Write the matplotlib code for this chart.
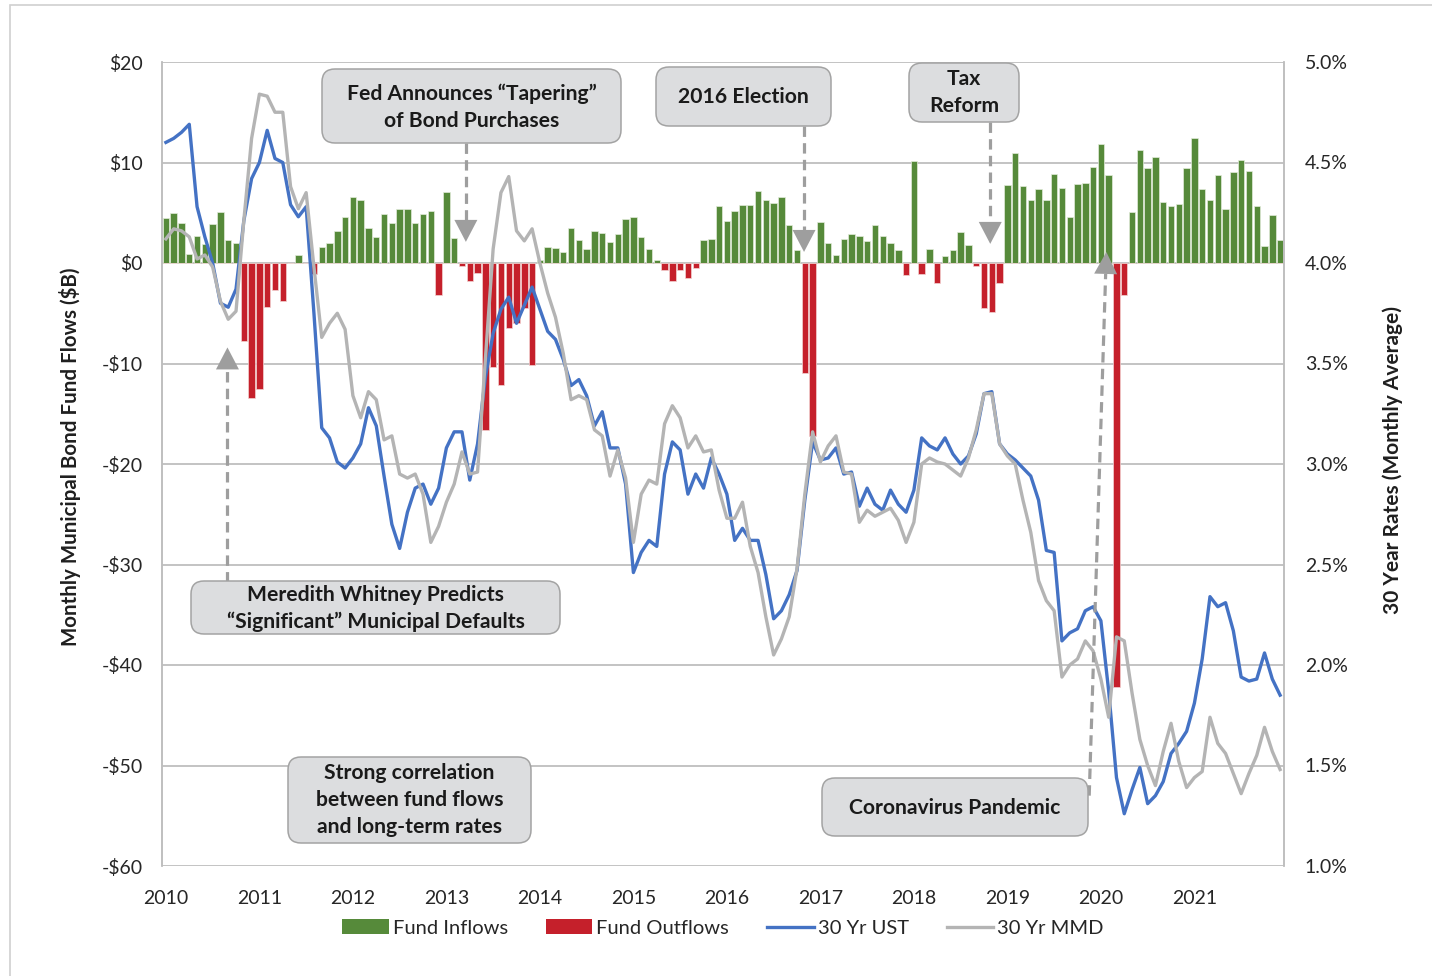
import matplotlib
matplotlib.use("Agg")
import numpy as np
import matplotlib.pyplot as plt
from matplotlib.patches import FancyBboxPatch, Polygon, Rectangle, Patch
from matplotlib.lines import Line2D
from matplotlib.transforms import IdentityTransform

plt.rcParams["font.family"] = ["Lato", "DejaVu Sans"]
plt.rcParams["lines.scale_dashes"] = False

# monthly municipal bond fund flows, $B (Jan 2010 - Dec 2021)
flows = [4.5, 5.0, 4.0, 0.9, 2.7, 1.9, 3.9, 5.1, 2.3, 2.0,
         -7.8, -13.4, -12.5, -4.4, -2.7, -3.8, 0.0, 0.8, 0.0, -1.1,
         1.6, 2.0, 3.2, 4.6, 6.6, 6.3, 3.5, 2.6, 4.9, 4.0,
         5.4, 5.4, 4.0, 4.9, 5.2, -3.2, 7.1, 2.5, -0.3, -1.8,
         -1.0, -16.6, -10.3, -12.1, -6.5, -6.0, -4.5, -10.1, 0.3, 1.6,
         1.5, 1.1, 3.5, 2.3, 1.4, 3.2, 3.0, 2.1, 2.9, 4.4,
         4.6, 2.6, 1.4, 0.3, -0.7, -1.8, -0.7, -1.5, -0.5, 2.3,
         2.4, 5.7, 4.2, 5.2, 5.8, 5.8, 7.2, 6.3, 6.0, 6.6,
         3.8, 1.3, -10.9, -17.2, 4.1, 2.0, 0.8, 2.4, 2.9, 2.7,
         2.2, 3.8, 2.7, 2.0, 1.3, -1.2, 10.1, -1.1, 1.4, -2.0,
         0.7, 1.3, 3.1, 1.8, -0.3, -4.5, -4.9, -2.0, 7.8, 10.9,
         7.7, 6.3, 7.4, 6.3, 8.9, 7.5, 4.6, 7.9, 8.0, 9.6,
         11.8, 8.8, -42.2, -3.2, 5.1, 11.2, 9.5, 10.5, 6.1, 5.7,
         5.9, 9.5, 12.4, 7.4, 6.3, 8.8, 5.4, 9.1, 10.2, 9.2,
         5.7, 1.7, 4.8, 2.3]

# 30 year rates, monthly average (%)
ust = [4.60, 4.62, 4.65, 4.69, 4.28, 4.13, 4.00, 3.80, 3.78, 3.87,
       4.21, 4.42, 4.50, 4.66, 4.52, 4.50, 4.29, 4.23, 4.28, 3.75,
       3.18, 3.13, 3.01, 2.98, 3.03, 3.10, 3.28, 3.19, 2.94, 2.70,
       2.58, 2.76, 2.88, 2.90, 2.80, 2.88, 3.08, 3.16, 3.16, 2.92,
       3.10, 3.43, 3.65, 3.77, 3.83, 3.70, 3.79, 3.88, 3.77, 3.66,
       3.62, 3.52, 3.39, 3.42, 3.34, 3.19, 3.26, 3.08, 3.08, 2.90,
       2.46, 2.56, 2.62, 2.59, 2.95, 3.11, 3.07, 2.85, 2.95, 2.88,
       3.03, 2.95, 2.85, 2.62, 2.68, 2.62, 2.62, 2.45, 2.23, 2.27,
       2.35, 2.47, 2.82, 3.11, 3.02, 3.03, 3.08, 2.95, 2.96, 2.79,
       2.88, 2.80, 2.77, 2.87, 2.80, 2.76, 2.87, 3.13, 3.09, 3.07,
       3.13, 3.05, 3.00, 3.04, 3.15, 3.35, 3.36, 3.10, 3.05, 3.02,
       2.98, 2.94, 2.82, 2.57, 2.56, 2.12, 2.16, 2.18, 2.27, 2.29,
       2.22, 1.87, 1.44, 1.26, 1.38, 1.49, 1.31, 1.35, 1.42, 1.56,
       1.61, 1.67, 1.81, 2.03, 2.34, 2.29, 2.31, 2.17, 1.94, 1.92,
       1.93, 2.06, 1.93, 1.85]

mmd = [4.12, 4.17, 4.16, 4.13, 4.02, 4.04, 3.98, 3.81, 3.72, 3.76,
       4.21, 4.62, 4.84, 4.83, 4.75, 4.75, 4.38, 4.27, 4.35, 3.98,
       3.63, 3.70, 3.75, 3.67, 3.34, 3.23, 3.36, 3.32, 3.12, 3.14,
       2.95, 2.93, 2.95, 2.85, 2.61, 2.69, 2.81, 2.90, 3.06, 2.95,
       2.96, 3.52, 4.07, 4.35, 4.43, 4.16, 4.11, 4.17, 4.00, 3.85,
       3.73, 3.55, 3.32, 3.34, 3.32, 3.17, 3.14, 2.94, 3.07, 2.93,
       2.61, 2.85, 2.92, 2.90, 3.20, 3.29, 3.23, 3.08, 3.14, 3.06,
       3.07, 2.87, 2.73, 2.73, 2.81, 2.59, 2.46, 2.24, 2.05, 2.13,
       2.24, 2.48, 2.85, 3.16, 3.01, 3.09, 3.14, 2.96, 2.95, 2.71,
       2.77, 2.74, 2.76, 2.78, 2.72, 2.61, 2.71, 3.00, 3.03, 3.01,
       3.00, 2.97, 2.94, 3.03, 3.17, 3.35, 3.35, 3.10, 3.04, 3.00,
       2.82, 2.66, 2.42, 2.32, 2.27, 1.94, 2.00, 2.03, 2.12, 2.07,
       1.93, 1.74, 2.14, 2.12, 1.86, 1.63, 1.50, 1.40, 1.57, 1.71,
       1.52, 1.39, 1.44, 1.47, 1.74, 1.61, 1.56, 1.46, 1.36, 1.46,
       1.55, 1.69, 1.57, 1.48]

years = list(range(2010, 2022))

GREEN = "#568A3A"
RED = "#C5202B"
BLUE = "#4472C4"
GREY = "#B4B4B4"
ARROW = "#9E9E9E"
W, H = 1432, 976

fig = plt.figure(figsize=(W / 100, H / 100), dpi=100)
ax = fig.add_axes([162 / W, 1 - 866 / H, (1284 - 162) / W, (866 - 62) / H])
ax2 = ax.twinx()

months = np.arange(len(flows))
flows = np.array(flows)
inflow = np.where(flows > 0, flows, 0)
outflow = np.where(flows < 0, flows, 0)
ax.bar(months, inflow, width=0.82, color=GREEN, edgecolor="#e3ecdb", linewidth=0.5, zorder=2)
ax.bar(months, outflow, width=0.82, color=RED, edgecolor="#f3d3d3", linewidth=0.5, zorder=2)

ax2.plot(months, ust, color=BLUE, lw=2.4, solid_joinstyle="round")
ax2.plot(months, mmd, color=GREY, lw=2.4, solid_joinstyle="round")

ax.set_xlim(-0.5, len(flows) - 0.5)
ax.set_ylim(-60, 20)
ax2.set_ylim(1.0, 5.0)

lt = list(range(-60, 21, 10))
ax.set_yticks(lt)
ax.set_yticklabels([("-$%d" % -v) if v < 0 else "$%d" % v for v in lt])
rt = np.arange(1.0, 5.01, 0.5)
ax2.set_yticks(rt)
ax2.set_yticklabels(["%.1f%%" % v for v in rt])
ax.set_xticks(months[::12])
ax.set_xticklabels([str(y) for y in years])

ax.yaxis.grid(True, color="#B3B3B3", lw=1.1)
ax.set_axisbelow(True)
for a in (ax, ax2):
    for s in a.spines.values():
        s.set_visible(False)
    a.spines["left"].set_visible(True)
    a.spines["right"].set_visible(True)
    a.spines["left"].set_color("#BDBDBD")
    a.spines["right"].set_color("#BDBDBD")
    a.spines["left"].set_linewidth(1.1)
    a.spines["right"].set_linewidth(1.1)
ax.tick_params(axis="y", length=0, pad=14, labelsize=14, colors="#262626")
ax.tick_params(axis="x", length=0, pad=17, labelsize=14, colors="#262626")
ax2.tick_params(axis="y", length=0, pad=15, labelsize=14, colors="#262626")

fig.text(70 / W, 1 - 457 / H, "Monthly Municipal Bond Fund Flows ($B)", rotation=90,
         ha="center", va="center", fontsize=14.8, fontweight="bold", color="#1F1F1F")
fig.text(1393 / W, 1 - 460 / H, "30 Year Rates (Monthly Average)", rotation=90,
         ha="center", va="center", fontsize=15, fontweight="bold", color="#1F1F1F")

# chart-area border
fig.add_artist(Rectangle((10, -20), W + 20, H - 5 + 20, transform=IdentityTransform(),
                         facecolor="none", edgecolor="#D0D0D0", lw=1.2))


def note(x0, y0, x1, y1, lines, ys):
    box = FancyBboxPatch((x0, H - y1), x1 - x0, y1 - y0,
                         boxstyle="round,pad=0,rounding_size=13",
                         transform=IdentityTransform(), facecolor="#DCDDDF",
                         edgecolor="#A3A3A3", lw=1.1, zorder=5)
    fig.add_artist(box)
    for txt, yy in zip(lines, ys):
        fig.text((x0 + x1) / 2 / W, 1 - yy / H, txt, ha="center", va="center",
                 fontsize=15.2, fontweight="bold", color="#1A1A1A", zorder=6)


def arrow(tail, tip, head=22, half=11.5):
    p0 = ax.transData.transform(tail)
    p1 = ax.transData.transform(tip)
    d = (p1 - p0) / np.hypot(*(p1 - p0))
    n = np.array([-d[1], d[0]])
    base = p1 - d * head
    fig.add_artist(Line2D([p0[0], base[0]], [p0[1], base[1]], transform=IdentityTransform(),
                          color=ARROW, lw=2.3, dashes=(7.5, 4.5), zorder=4))
    fig.add_artist(Polygon([p1, base + n * half, base - n * half], closed=True,
                           transform=IdentityTransform(), facecolor=ARROW,
                           edgecolor="none", zorder=4))


note(322, 69, 621, 143, ["Fed Announces \u201cTapering\u201d", "of Bond Purchases"], [94, 121])
note(656, 67, 831, 126, ["2016 Election"], [97])
note(909, 63, 1019, 122, ["Tax", "Reform"], [79, 106])
note(191, 581, 560, 634, ["Meredith Whitney Predicts",
                          "\u201cSignificant\u201d Municipal Defaults"], [595, 622])
note(288, 757, 531, 843, ["Strong correlation", "between fund flows",
                          "and long-term rates"], [773, 800, 827])
note(822, 778, 1088, 836, ["Coronavirus Pandemic"], [808])

arrow((38.5, 11.95), (38.5, 2.1))
arrow((81.9, 13.6), (81.9, 1.1))
arrow((105.8, 14.0), (105.8, 1.9))
arrow((7.9, -31.7), (7.9, -8.4))
arrow((118.5, -53.0), (120.7, 1.1))

handles = [Patch(facecolor=GREEN, edgecolor="none"),
           Patch(facecolor=RED, edgecolor="none"),
           Line2D([], [], color=BLUE, lw=2.4),
           Line2D([], [], color=GREY, lw=2.4)]
fig.legend(handles, ["Fund Inflows", "Fund Outflows", "30 Yr UST", "30 Yr MMD"],
           loc="center", bbox_to_anchor=(723 / W, 1 - 928 / H), ncol=4, frameon=False,
           fontsize=14.5, handlelength=2.3, handletextpad=0.2, columnspacing=1.9,
           labelcolor="#262626")

fig.savefig("out.png", dpi=100)
